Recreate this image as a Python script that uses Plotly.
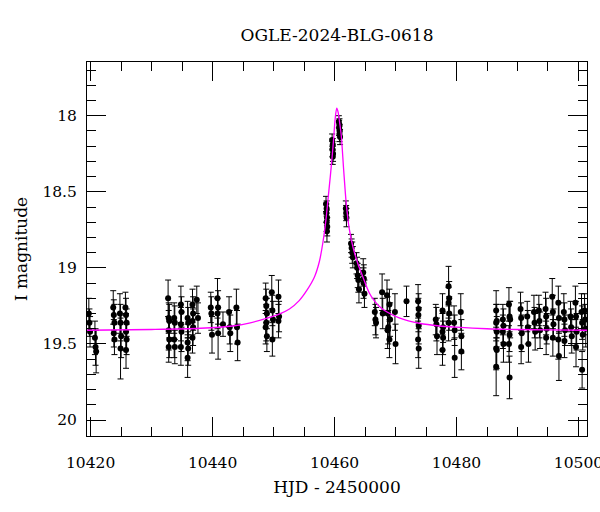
import plotly.graph_objects as go

# ---- observed photometry (HJD-2450000, I mag, error) ----
hjd = [
    10419.7, 10419.8, 10419.9,
    10420.7, 10420.8, 10420.9,
    10423.7, 10423.8, 10423.9, 10423.8, 10423.9,
    10424.8, 10424.9, 10425.0, 10424.9,
    10425.7, 10425.8, 10425.9, 10425.8, 10425.9, 10425.8,
    10432.7, 10432.8, 10432.9, 10432.8, 10432.9, 10432.8,
    10433.7, 10433.8, 10433.7, 10433.8,
    10434.8, 10434.9, 10434.8, 10434.9, 10434.8,
    10435.9, 10436.0, 10435.9, 10436.0, 10435.9,
    10436.7, 10436.8, 10436.7, 10436.8, 10436.7,
    10437.4, 10437.6,
    10439.7, 10439.8, 10439.9,
    10440.8, 10440.9, 10440.8, 10440.9,
    10441.7,
    10442.7, 10442.8, 10442.9,
    10443.9, 10444.0, 10444.1,
    10448.7, 10448.8, 10448.9, 10448.8, 10448.7, 10448.9,
    10449.7, 10449.8, 10449.9, 10449.8,
    10450.8, 10450.9, 10450.8,
    10458.6, 10458.7, 10458.65, 10458.75, 10458.7, 10458.8, 10458.75,
    10459.6, 10459.7, 10459.65, 10459.75, 10459.7,
    10460.7, 10460.8, 10460.75, 10460.85, 10460.8, 10460.9,
    10461.85, 10461.9, 10461.95,
    10462.7, 10462.8, 10462.9, 10463.0,
    10463.6, 10463.7, 10463.8, 10463.9, 10464.0,
    10464.7, 10464.8, 10464.75, 10464.9,
    10466.6, 10466.7, 10466.8,
    10467.8, 10467.9,
    10468.6, 10468.7, 10468.8, 10468.7,
    10469.0, 10469.1, 10469.0,
    10469.9, 10470.0,
    10471.8,
    10473.7, 10473.8, 10473.75, 10473.8, 10473.7, 10473.8,
    10476.6, 10476.7, 10476.8,
    10477.7, 10477.8, 10477.7, 10477.8, 10477.7,
    10478.7, 10478.8, 10478.7, 10478.8, 10478.7,
    10479.6, 10479.7, 10479.7,
    10480.7, 10480.8, 10480.8,
    10486.5, 10486.6, 10486.5, 10486.6, 10486.5, 10486.6, 10486.5,
    10487.6, 10487.7, 10487.6, 10487.7,
    10488.6, 10488.7, 10488.8, 10488.7, 10488.6, 10488.7,
    10490.5, 10490.6, 10490.7, 10490.6,
    10491.6, 10491.7, 10491.8,
    10492.7, 10492.8, 10492.9,
    10493.5, 10493.6, 10493.7,
    10494.6, 10494.7, 10494.8, 10494.7,
    10495.7, 10495.8, 10495.9, 10495.8,
    10496.7, 10496.8, 10496.7, 10496.8,
    10497.6, 10497.7, 10497.8, 10497.7,
    10498.7, 10498.8, 10498.9,
    10499.5, 10499.6, 10499.7, 10499.6,
    10500.5, 10500.6, 10500.7, 10500.6,
    10501.0, 10501.1, 10501.2,
]
imag = [
    19.30, 19.36, 19.42,
    19.46, 19.52, 19.55,
    19.26, 19.31, 19.36, 19.43, 19.47,
    19.30, 19.36, 19.45, 19.53,
    19.26, 19.31, 19.36, 19.42, 19.47, 19.54,
    19.20, 19.33, 19.35, 19.41, 19.47, 19.52,
    19.33, 19.36, 19.47, 19.52,
    19.24, 19.29, 19.37, 19.42, 19.52,
    19.33, 19.36, 19.49, 19.53, 19.59,
    19.24, 19.30, 19.35, 19.39, 19.46,
    19.21, 19.33,
    19.26, 19.30, 19.44,
    19.20, 19.26, 19.30, 19.43,
    19.37,
    19.29, 19.39, 19.43,
    19.26, 19.39, 19.49,
    19.20, 19.25, 19.30, 19.36, 19.39, 19.45,
    19.16, 19.28, 19.34, 19.47,
    19.19, 19.32, 19.35,
    18.58, 18.61, 18.64, 18.67, 18.70, 18.73, 18.76,
    18.16, 18.19, 18.22, 18.25, 18.27,
    18.04, 18.06, 18.08, 18.10, 18.12, 18.14,
    18.61, 18.64, 18.67,
    18.84, 18.87, 18.90, 18.93,
    18.97, 19.00, 19.05, 19.08, 19.14,
    19.03, 19.07, 19.10, 19.17,
    19.29, 19.34, 19.36,
    19.16, 19.30,
    19.18, 19.30, 19.39, 19.41,
    19.24, 19.34, 19.47,
    19.29, 19.50,
    19.22,
    19.22, 19.27, 19.31, 19.38, 19.47, 19.53,
    19.34, 19.37, 19.45,
    19.28, 19.39, 19.42, 19.46, 19.54,
    19.12, 19.20, 19.23, 19.30, 19.36,
    19.36, 19.41, 19.59,
    19.29, 19.45, 19.55,
    19.28, 19.35, 19.36, 19.42, 19.53, 19.54, 19.65,
    19.34, 19.38, 19.42, 19.50,
    19.24, 19.32, 19.34, 19.44, 19.50, 19.72,
    19.27, 19.33, 19.43, 19.52,
    19.32, 19.39, 19.50,
    19.29, 19.36, 19.42,
    19.28, 19.35, 19.41,
    19.27, 19.32, 19.40, 19.46,
    19.19, 19.29, 19.37, 19.46,
    19.23, 19.33, 19.47, 19.58,
    19.29, 19.34, 19.41, 19.48,
    19.32, 19.39, 19.45,
    19.23, 19.32, 19.42, 19.52,
    19.29, 19.36, 19.44, 19.67,
    19.28, 19.34, 19.40,
]
ierr = [
    0.10, 0.09, 0.10,
    0.11, 0.12, 0.14,
    0.11, 0.10, 0.12, 0.09, 0.10,
    0.13, 0.12, 0.14, 0.20,
    0.10, 0.11, 0.09, 0.12, 0.10, 0.12,
    0.12, 0.10, 0.11, 0.13, 0.12, 0.10,
    0.10, 0.11, 0.12, 0.11,
    0.12, 0.10, 0.11, 0.13, 0.12,
    0.11, 0.10, 0.12, 0.11, 0.13,
    0.10, 0.11, 0.09, 0.12, 0.10,
    0.09, 0.10,
    0.10, 0.11, 0.12,
    0.13, 0.11, 0.10, 0.17,
    0.08,
    0.10, 0.11, 0.12,
    0.12, 0.11, 0.12,
    0.10, 0.11, 0.10, 0.12, 0.11, 0.10,
    0.11, 0.10, 0.12, 0.11,
    0.11, 0.10, 0.11,
    0.05, 0.05, 0.06, 0.05, 0.06, 0.06, 0.07,
    0.04, 0.04, 0.05, 0.05, 0.05,
    0.04, 0.04, 0.05, 0.04, 0.05, 0.05,
    0.05, 0.05, 0.06,
    0.06, 0.06, 0.07, 0.07,
    0.07, 0.07, 0.08, 0.08, 0.09,
    0.09, 0.09, 0.10, 0.09,
    0.09, 0.10, 0.10,
    0.12, 0.10,
    0.10, 0.11, 0.11, 0.12,
    0.10, 0.11, 0.12,
    0.12, 0.13,
    0.10,
    0.11, 0.10, 0.11, 0.12, 0.12, 0.13,
    0.10, 0.11, 0.12,
    0.11, 0.10, 0.12, 0.11, 0.10,
    0.13, 0.11, 0.10, 0.11, 0.12,
    0.11, 0.10, 0.13,
    0.12, 0.11, 0.12,
    0.13, 0.11, 0.12, 0.10, 0.14, 0.12, 0.19,
    0.10, 0.11, 0.11, 0.12,
    0.11, 0.10, 0.12, 0.11, 0.12, 0.14,
    0.11, 0.10, 0.12, 0.11,
    0.10, 0.11, 0.12,
    0.11, 0.10, 0.12,
    0.10, 0.11, 0.12,
    0.11, 0.12, 0.10, 0.11,
    0.12, 0.11, 0.10, 0.12,
    0.11, 0.10, 0.13, 0.16,
    0.12, 0.11, 0.10, 0.11,
    0.10, 0.12, 0.11,
    0.11, 0.10, 0.12, 0.13,
    0.12, 0.11, 0.10, 0.12,
    0.11, 0.10, 0.12,
]

# ---- model light curve ----
model_hjd = [
    10419.4, 10430.0, 10438.0, 10443.3, 10446.0, 10448.8, 10451.0, 10452.6,
    10454.2, 10455.5, 10456.7, 10457.5, 10458.1, 10458.6, 10458.9, 10459.3,
    10459.6, 10459.85, 10460.1, 10460.36, 10460.6, 10460.85, 10461.1, 10461.5,
    10461.9, 10462.4, 10463.0, 10463.8, 10464.6, 10465.7, 10466.5, 10467.4,
    10468.6, 10470.6, 10473.9, 10477.2, 10480.0, 10485.0, 10490.0, 10495.0,
    10501.4,
]
model_mag = [
    19.41, 19.405, 19.397, 19.382, 19.363, 19.332, 19.302, 19.27,
    19.215, 19.145, 19.06, 18.96, 18.83, 18.68, 18.56, 18.40,
    18.27, 18.15, 18.02, 17.95, 17.98, 18.05, 18.13, 18.36,
    18.57, 18.74, 18.86, 18.97, 19.055, 19.165, 19.215, 19.255,
    19.29, 19.328, 19.364, 19.382, 19.39, 19.40, 19.405, 19.408,
    19.41,
]

x_tick_vals = [10420, 10440, 10460, 10480, 10500]
x_tick_labels = ["10420", "10440", "10460", "10480", "10500"]
y_tick_vals = [18.0, 18.5, 19.0, 19.5, 20.0]
y_tick_labels = ["18", "18.5", "19", "19.5", "20"]

FONT = "DejaVu Serif"

fig = go.Figure()
fig.add_trace(go.Scatter(
    x=hjd, y=imag, mode="markers",
    marker=dict(color="black", size=6),
    error_y=dict(type="data", array=ierr, visible=True, color="black",
                 thickness=1, width=3),
    showlegend=False,
))
fig.add_trace(go.Scatter(
    x=model_hjd, y=model_mag, mode="lines",
    line=dict(color="#ff00ff", width=1.3, shape="spline", smoothing=0.8),
    showlegend=False,
))

axis_common = dict(
    showline=True, linecolor="black", linewidth=1, mirror="allticks",
    ticks="inside", ticklen=19, tickwidth=1, tickcolor="black",
    showgrid=False, zeroline=False, automargin=False,
    ticklabeloverflow="allow",
    tickfont=dict(family=FONT, size=15.5, color="black"),
)

fig.update_layout(
    width=600, height=512,
    margin=dict(l=87, r=13, t=62, b=76, autoexpand=False),
    paper_bgcolor="white", plot_bgcolor="white",
    title=dict(text="OGLE-2024-BLG-0618", x=0.5, xref="paper",
               y=1 - 35 / 512, yref="container", yanchor="middle",
               font=dict(family=FONT, size=17, color="black")),
    xaxis=dict(
        range=[10419.4, 10501.4], tickmode="array",
        tickvals=x_tick_vals, ticktext=x_tick_labels,
        minor=dict(ticks="inside", ticklen=9, tickcolor="black",
                   tickmode="linear", tick0=10420, dtick=5, showgrid=False),
        title=dict(text="HJD - 2450000", standoff=10,
                   font=dict(family=FONT, size=17, color="black")),
        ticklabelstandoff=12,
        **axis_common,
    ),
    yaxis=dict(
        range=[20.105, 17.647], tickmode="array",
        tickvals=y_tick_vals, ticktext=y_tick_labels,
        minor=dict(ticks="inside", ticklen=9, tickcolor="black",
                   tickmode="linear", tick0=18, dtick=0.1, showgrid=False),
        title=dict(text="I magnitude", standoff=10,
                   font=dict(family=FONT, size=17, color="black")),
        ticklabelstandoff=6,
        **axis_common,
    ),
)

fig.write_html("out.html")
